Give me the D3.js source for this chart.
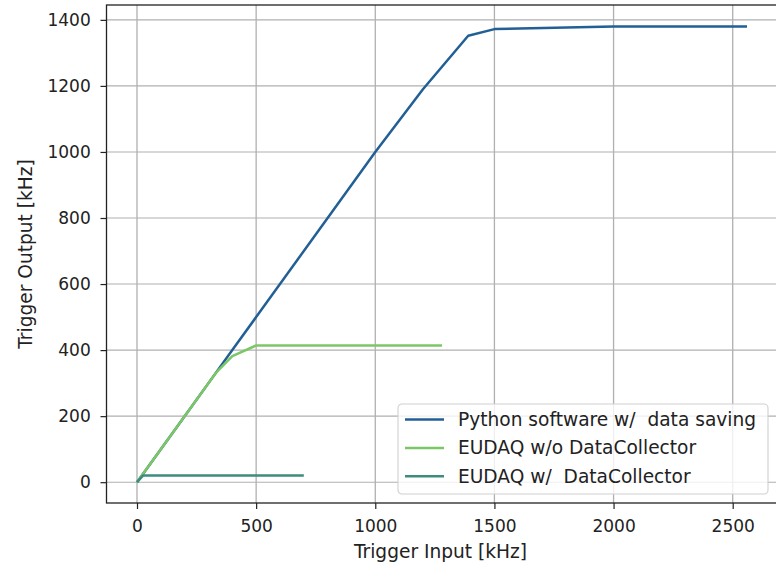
<!DOCTYPE html>
<html>
<head>
<meta charset="utf-8">
<script src="https://cdn.jsdelivr.net/npm/d3@7"></script>
<style>
  body { margin: 0; background: #fff; }
  svg { font-family: "DejaVu Sans", sans-serif; }
</style>
</head>
<body>
<svg id="chart"></svg>
<script>
// Python software w/ data saving
let pyIn = [0, 100, 200, 300, 400, 500, 1000, 1200, 1390, 1500, 2000, 2560];
let pyOut = [0, 100, 200, 300, 400, 500, 1000, 1190, 1352, 1372, 1380, 1380];
// EUDAQ w/o DataCollector
let noDcIn = [0, 330, 400, 500, 1280];
let noDcOut = [0, 330, 382, 414, 414];
// EUDAQ w/ DataCollector
let dcIn = [0, 25, 700];
let dcOut = [0, 20, 20];

let xTicks = [0, 500, 1000, 1500, 2000, 2500];
let yTicks = [0, 200, 400, 600, 800, 1000, 1200, 1400];

let seriesNames = ["Python software w/  data saving", "EUDAQ w/o DataCollector", "EUDAQ w/  DataCollector"];
let seriesColors = ["#225f95", "#7cc765", "#3e8b7f"];

function makeChart() {
    let w = 776;
    let h = 562;
    let tickFs = 17;
    let labelFs = 18.6;

    let svg = d3.select("#chart")
        .attr("width", w)
        .attr("height", h);

    let left = 106.5, right = 777.5, top = 5, bottom = 503;

    let xScale = d3.scaleLinear()
        .domain([-128, 2688])
        .range([left, right]);
    let yScale = d3.scaleLinear()
        .domain([-63, 1445])
        .range([bottom, top]);

    // grid
    let grid = svg.append("g").attr("stroke", "#b0b0b0");
    grid.selectAll(".gx").data(xTicks).join("line")
        .attr("stroke-width", 1.3)
        .attr("x1", d => xScale(d)).attr("x2", d => xScale(d))
        .attr("y1", top).attr("y2", bottom);
    grid.selectAll(".gy").data(yTicks).join("line")
        .attr("stroke-width", 1.1)
        .attr("x1", left).attr("x2", right)
        .attr("y1", d => yScale(d)).attr("y2", d => yScale(d));

    // lines
    let series = [
        pyIn.map((x, i) => [x, pyOut[i]]),
        noDcIn.map((x, i) => [x, noDcOut[i]]),
        dcIn.map((x, i) => [x, dcOut[i]])
    ];
    let line = d3.line().x(d => xScale(d[0])).y(d => yScale(d[1]));
    svg.append("g").selectAll("path")
        .data(series)
        .join("path")
        .attr("d", line)
        .attr("fill", "none")
        .attr("stroke", (d, i) => seriesColors[i])
        .attr("stroke-width", 2.5)
        .attr("stroke-linejoin", "round");

    // axes
    let xAxis = d3.axisBottom(xScale).tickValues(xTicks).tickFormat(d3.format("d"))
        .tickSize(6).tickPadding(11);
    let xg = svg.append("g")
        .attr("transform", `translate(0, ${bottom})`)
        .call(xAxis);
    let yAxis = d3.axisLeft(yScale).tickValues(yTicks).tickFormat(d3.format("d"))
        .tickSize(6).tickPadding(9.8);
    let yg = svg.append("g")
        .attr("transform", `translate(${left},0)`)
        .call(yAxis);
    [xg, yg].forEach(g => {
        g.select(".domain").remove();
        g.selectAll("line").attr("stroke", "#222").attr("stroke-width", 1.2);
        g.selectAll("text").attr("font-size", tickFs).attr("fill", "#222")
            .attr("font-family", "DejaVu Sans");
    });

    // frame
    svg.append("rect")
        .attr("x", left).attr("y", top)
        .attr("width", right - left).attr("height", bottom - top)
        .attr("fill", "none").attr("stroke", "#222").attr("stroke-width", 1.3);

    svg.append("text")
        .attr("x", 440.5).attr("y", 557.5)
        .attr("text-anchor", "middle").attr("font-size", labelFs).attr("fill", "#222")
        .text("Trigger Input [kHz]");
    svg.append("text")
        .attr("transform", `translate(32, ${(top + bottom) / 2}) rotate(-90)`)
        .attr("text-anchor", "middle").attr("font-size", labelFs).attr("fill", "#222")
        .text("Trigger Output [kHz]");

    // legend
    let lg = svg.append("g").attr("transform", "translate(398, 404)");
    lg.append("rect")
        .attr("width", 370).attr("height", 90).attr("rx", 4)
        .attr("fill", "#fff").attr("fill-opacity", 0.8)
        .attr("stroke", "#d0d0d0").attr("stroke-width", 1.1);
    let items = lg.selectAll(".item").data(seriesNames).join("g")
        .attr("transform", (d, i) => `translate(0, ${15.5 + i * 28.4})`);
    items.append("line")
        .attr("x1", 7).attr("x2", 46)
        .attr("stroke", (d, i) => seriesColors[i]).attr("stroke-width", 2.5);
    items.append("text")
        .attr("x", 60).attr("dy", "0.35em")
        .attr("font-size", labelFs).attr("fill", "#222")
        .style("white-space", "pre")
        .text(d => d);
}

window.onload = function() {
    makeChart();
}
</script>
</body>
</html>
